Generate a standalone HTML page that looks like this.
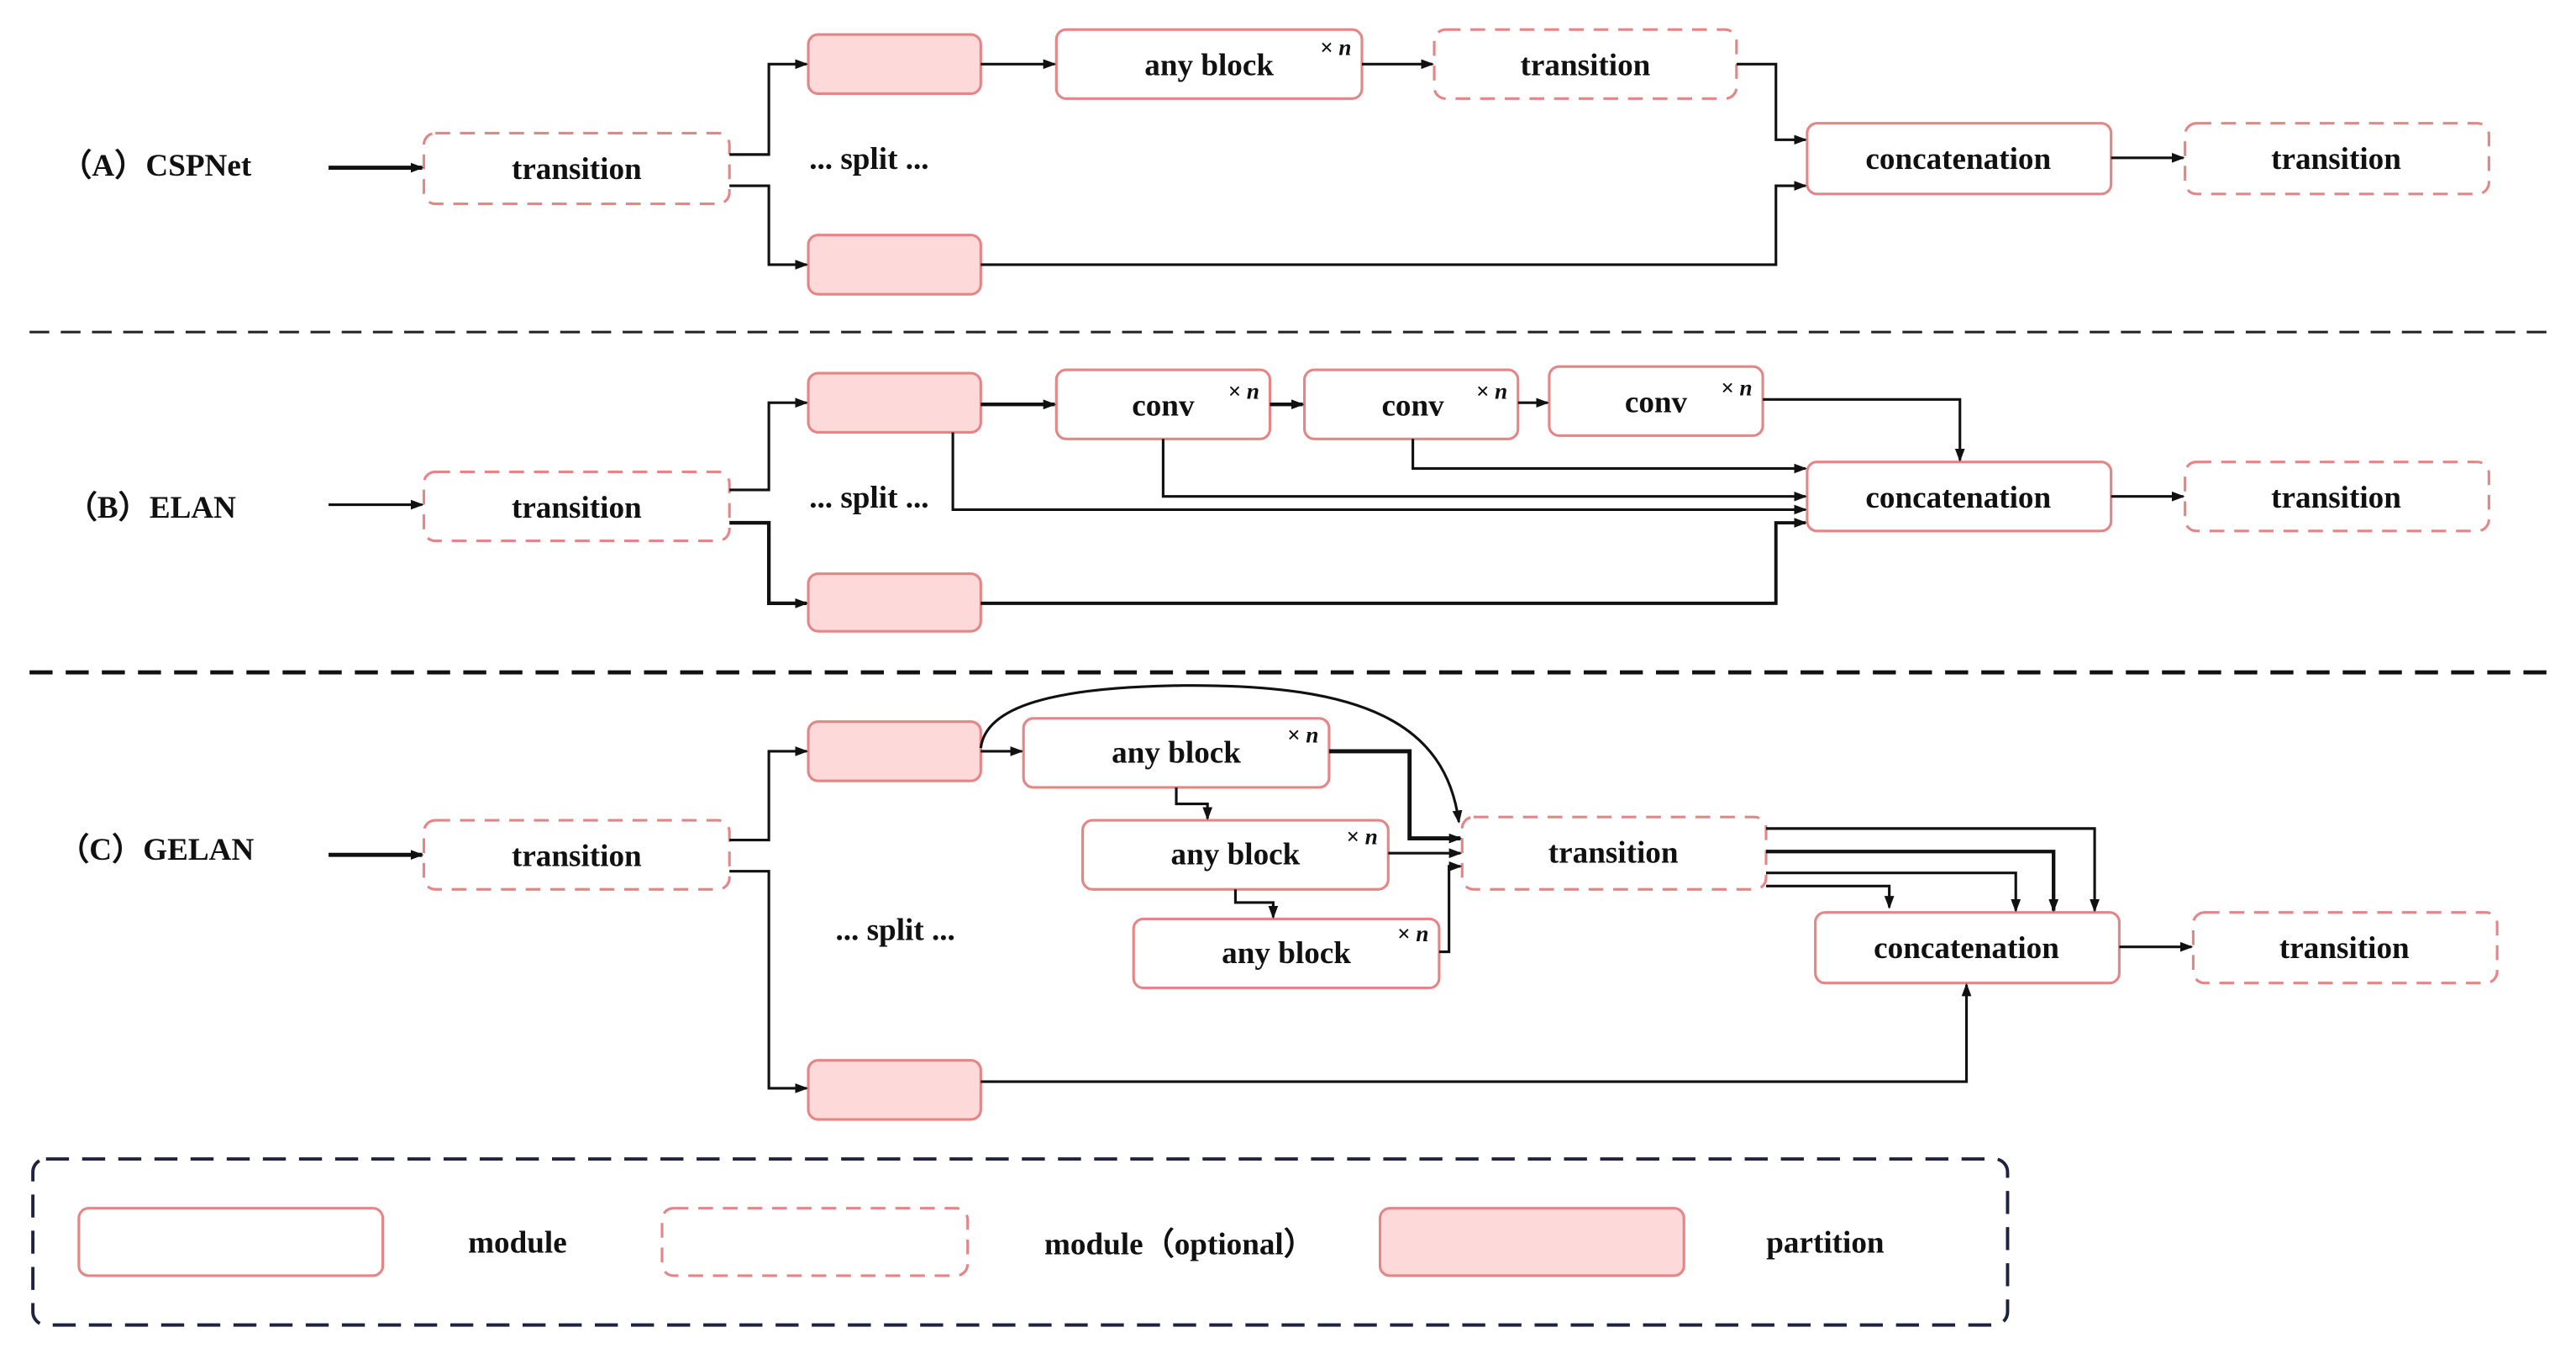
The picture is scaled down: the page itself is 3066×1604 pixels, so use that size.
<!DOCTYPE html>
<html><head><meta charset="utf-8"><style>
html,body{margin:0;padding:0;background:#fff;}
svg{display:block;}
text{font-family:"Liberation Serif",serif;font-weight:bold;fill:#111;}
</style></head><body>
<svg width="3066" height="1604" viewBox="0 0 1568 820" preserveAspectRatio="none" xmlns="http://www.w3.org/2000/svg">
<defs>
<marker id="a" markerWidth="8" markerHeight="8" refX="7" refY="4" orient="auto" markerUnits="userSpaceOnUse">
<path d="M0,1 L8,4 L0,7 z" fill="#111"/></marker>
</defs>
<g font-size="19" text-anchor="middle" dominant-baseline="central">
<!-- boxes style -->
<g stroke="#e58585" stroke-width="1.6">
<!-- A -->
<rect x="258" y="81" width="186" height="43" rx="7" fill="#fff" stroke-dasharray="9,6"/>
<rect x="492" y="21" width="105" height="36" rx="6" fill="#fdd9d9"/>
<rect x="492" y="143" width="105" height="36" rx="6" fill="#fdd9d9"/>
<rect x="643" y="18" width="186" height="42" rx="6" fill="#fff"/>
<rect x="873" y="18" width="184" height="42" rx="7" fill="#fff" stroke-dasharray="9,6"/>
<rect x="1100" y="75" width="185" height="43" rx="6" fill="#fff"/>
<rect x="1330" y="75" width="185" height="43" rx="7" fill="#fff" stroke-dasharray="9,6"/>
<!-- B -->
<rect x="258" y="287" width="186" height="42" rx="7" fill="#fff" stroke-dasharray="9,6"/>
<rect x="492" y="227" width="105" height="36" rx="6" fill="#fdd9d9"/>
<rect x="492" y="349" width="105" height="35" rx="6" fill="#fdd9d9"/>
<rect x="643" y="225" width="130" height="42" rx="6" fill="#fff"/>
<rect x="794" y="225" width="130" height="42" rx="6" fill="#fff"/>
<rect x="943" y="223" width="130" height="42" rx="6" fill="#fff"/>
<rect x="1100" y="281" width="185" height="42" rx="6" fill="#fff"/>
<rect x="1330" y="281" width="185" height="42" rx="7" fill="#fff" stroke-dasharray="9,6"/>
<!-- C -->
<rect x="258" y="499" width="186" height="42" rx="7" fill="#fff" stroke-dasharray="9,6"/>
<rect x="492" y="439" width="105" height="36" rx="6" fill="#fdd9d9"/>
<rect x="492" y="645" width="105" height="36" rx="6" fill="#fdd9d9"/>
<rect x="623" y="437" width="186" height="42" rx="6" fill="#fff"/>
<rect x="659" y="499" width="186" height="42" rx="6" fill="#fff"/>
<rect x="690" y="559" width="186" height="42" rx="6" fill="#fff"/>
<rect x="890" y="497" width="185" height="44" rx="7" fill="#fff" stroke-dasharray="9,6"/>
<rect x="1105" y="555" width="185" height="43" rx="6" fill="#fff"/>
<rect x="1335" y="555" width="185" height="43" rx="7" fill="#fff" stroke-dasharray="9,6"/>
<!-- legend -->
<rect x="48" y="735" width="185" height="41" rx="6" fill="#fff"/>
<rect x="403" y="735" width="186" height="41" rx="7" fill="#fff" stroke-dasharray="9,6"/>
<rect x="840" y="735" width="185" height="41" rx="6" fill="#fdd9d9"/>
</g>
<!-- separators -->
<line x1="18" y1="202" x2="1552" y2="202" stroke="#222" stroke-width="1.5" stroke-dasharray="12,7"/>
<line x1="18" y1="409" x2="1552" y2="409" stroke="#111" stroke-width="2.5" stroke-dasharray="14,8"/>
<rect x="20" y="705" width="1202" height="101" rx="8" fill="none" stroke="#1f2340" stroke-width="2" stroke-dasharray="14,8"/>

<g fill="none" stroke="#111" stroke-width="1.6">
<!-- A -->
<line x1="200" y1="102" x2="257" y2="102" stroke-width="2.5" marker-end="url(#a)"/>
<polyline points="444,94 468,94 468,39 491,39" marker-end="url(#a)"/>
<polyline points="444,113 468,113 468,161 491,161" marker-end="url(#a)"/>
<line x1="597" y1="39" x2="642" y2="39" marker-end="url(#a)"/>
<line x1="829" y1="39" x2="872" y2="39" marker-end="url(#a)"/>
<polyline points="1057,39 1081,39 1081,85 1099,85" marker-end="url(#a)"/>
<polyline points="597,161 1081,161 1081,113 1099,113" marker-end="url(#a)"/>
<line x1="1285" y1="96" x2="1329" y2="96" marker-end="url(#a)"/>
<!-- B -->
<line x1="200" y1="307" x2="257" y2="307" marker-end="url(#a)"/>
<polyline points="444,298 468,298 468,245 491,245" marker-end="url(#a)"/>
<polyline points="444,318 468,318 468,367 491,367" stroke-width="2.2" marker-end="url(#a)"/>
<line x1="597" y1="246" x2="642" y2="246" stroke-width="2.2" marker-end="url(#a)"/>
<line x1="773" y1="246" x2="793" y2="246" stroke-width="2.2" marker-end="url(#a)"/>
<line x1="924" y1="245" x2="942" y2="245" marker-end="url(#a)"/>
<polyline points="1073,243 1193,243 1193,280" marker-end="url(#a)"/>
<polyline points="860,267 860,285 1099,285" marker-end="url(#a)"/>
<polyline points="708,267 708,302 1099,302" marker-end="url(#a)"/>
<polyline points="580,263 580,310 1099,310" marker-end="url(#a)"/>
<polyline points="597,367 1081,367 1081,318 1099,318" stroke-width="2" marker-end="url(#a)"/>
<line x1="1285" y1="302" x2="1329" y2="302" marker-end="url(#a)"/>
<!-- C -->
<line x1="200" y1="520" x2="257" y2="520" stroke-width="2.5" marker-end="url(#a)"/>
<polyline points="444,511 468,511 468,457 491,457" marker-end="url(#a)"/>
<polyline points="444,530 468,530 468,662 491,662" marker-end="url(#a)"/>
<line x1="597" y1="457" x2="622" y2="457" marker-end="url(#a)"/>
<path d="M597,455 C600,430 640,418 720,417 C830,416 880,440 888,500" marker-end="url(#a)"/>
<polyline points="809,457 858,457 858,510 889,510" stroke-width="2.5" marker-end="url(#a)"/>
<line x1="845" y1="519" x2="889" y2="519" marker-end="url(#a)"/>
<polyline points="876,579 882,579 882,527 889,527" marker-end="url(#a)"/>
<polyline points="716,479 716,489 735,489 735,498" marker-end="url(#a)"/>
<polyline points="752,541 752,549 775,549 775,558" marker-end="url(#a)"/>
<polyline points="1075,504 1275,504 1275,554" marker-end="url(#a)"/>
<polyline points="1075,518 1250,518 1250,554" stroke-width="2.2" marker-end="url(#a)"/>
<polyline points="1075,531 1227,531 1227,554" marker-end="url(#a)"/>
<polyline points="1075,539 1150,539 1150,552" marker-end="url(#a)"/>
<polyline points="597,658 1197,658 1197,599" marker-end="url(#a)"/>
<line x1="1290" y1="576" x2="1334" y2="576" marker-end="url(#a)"/>
</g>

<!-- labels -->
<text x="95" y="101" text-anchor="middle">（A）CSPNet</text>
<text x="92" y="309">（B）ELAN</text>
<text x="95" y="517">（C）GELAN</text>
<text x="351" y="103">transition</text>
<text x="529" y="97">... split ...</text>
<text x="736" y="40">any block</text>
<text x="965" y="40">transition</text>
<text x="1192" y="97">concatenation</text>
<text x="1422" y="97">transition</text>
<text x="351" y="309">transition</text>
<text x="529" y="303">... split ...</text>
<text x="708" y="247">conv</text>
<text x="860" y="247">conv</text>
<text x="1008" y="245">conv</text>
<text x="1192" y="303">concatenation</text>
<text x="1422" y="303">transition</text>
<text x="351" y="521">transition</text>
<text x="545" y="566">... split ...</text>
<text x="716" y="458">any block</text>
<text x="752" y="520">any block</text>
<text x="783" y="580">any block</text>
<text x="982" y="519">transition</text>
<text x="1197" y="577">concatenation</text>
<text x="1427" y="577">transition</text>
<text x="315" y="756">module</text>
<text x="718" y="757">module（optional）</text>
<text x="1111" y="756">partition</text>
<g font-size="14" font-style="italic">
<text x="813" y="29">×<tspan font-style="italic"> n</tspan></text>
<text x="757" y="238">× n</text>
<text x="908" y="238">× n</text>
<text x="1057" y="236">× n</text>
<text x="793" y="447">× n</text>
<text x="829" y="509">× n</text>
<text x="860" y="568">× n</text>
</g>
</g>
</svg>
</body></html>
